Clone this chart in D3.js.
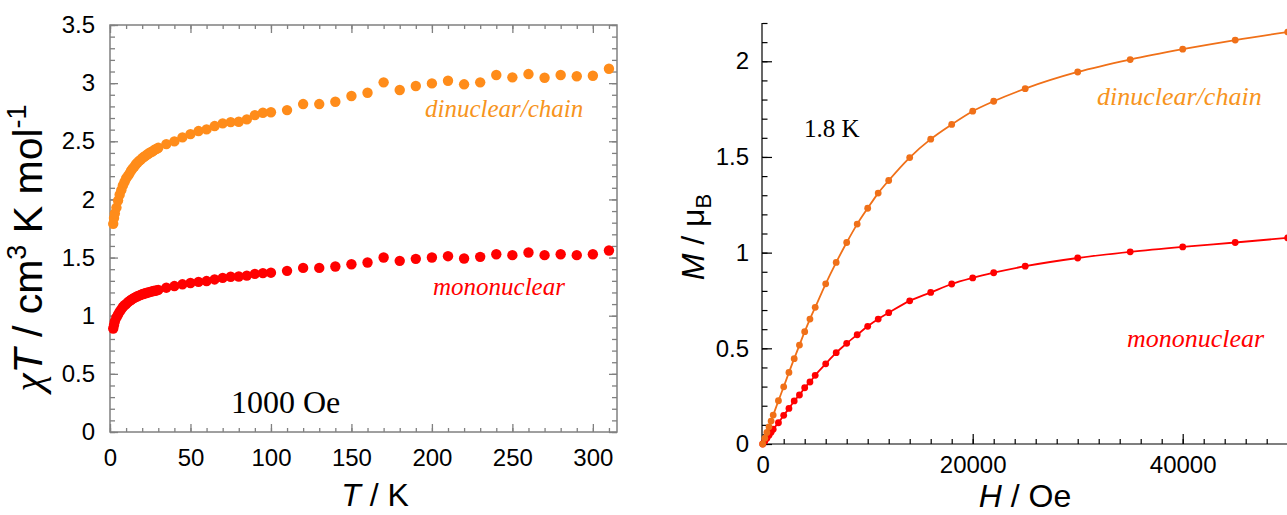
<!DOCTYPE html>
<html>
<head>
<meta charset="utf-8">
<script src="https://cdn.jsdelivr.net/npm/d3@7"></script>
<style>
  body { margin: 0; background: #fff; }
  svg { display: block; }
</style>
</head>
<body>
<svg id="chart" width="1287" height="515"></svg>
<script>
// ---- χT versus T (1000 Oe) ----
const tempK = [2, 2.5, 3, 4, 5, 6, 7, 8, 9, 10, 11, 12, 13, 14, 15, 16, 17, 18, 19, 20,
  21, 22, 23, 24, 25, 26, 27, 28, 29, 30,
  35, 40, 45, 50, 55, 60, 65, 70, 75, 80, 85, 90, 95, 100,
  110, 120, 130, 140, 150, 160, 170, 180, 190, 200, 210, 220, 230, 240, 250, 260, 270, 280, 290, 300, 310];
const chiTDinuclear = [1.79, 1.84, 1.88, 1.93, 1.99, 2.04, 2.08, 2.12, 2.15, 2.18, 2.20, 2.22, 2.245, 2.265, 2.28, 2.30, 2.315, 2.33, 2.34, 2.355,
  2.365, 2.375, 2.385, 2.395, 2.405, 2.41, 2.42, 2.43, 2.435, 2.444,
  2.476, 2.499, 2.534, 2.562, 2.588, 2.602, 2.631, 2.654, 2.665, 2.668, 2.688, 2.725, 2.745, 2.75,
  2.768, 2.820, 2.820, 2.840, 2.889, 2.917, 3.007, 2.941, 2.975, 2.998, 3.021, 2.990, 3.007, 3.070, 3.050, 3.078, 3.046, 3.070, 3.059, 3.064, 3.124];
const chiTMononuclear = [0.89, 0.92, 0.95, 0.985, 1.01, 1.035, 1.055, 1.075, 1.09, 1.10, 1.115, 1.125, 1.135, 1.145, 1.153, 1.16, 1.167, 1.173, 1.179, 1.184,
  1.189, 1.193, 1.197, 1.201, 1.205, 1.209, 1.212, 1.215, 1.218, 1.222,
  1.241, 1.255, 1.27, 1.281, 1.291, 1.298, 1.312, 1.325, 1.335, 1.337, 1.345, 1.36, 1.366, 1.37,
  1.386, 1.411, 1.411, 1.423, 1.443, 1.458, 1.501, 1.472, 1.489, 1.501, 1.512, 1.492, 1.506, 1.529, 1.521, 1.544, 1.521, 1.529, 1.521, 1.529, 1.561];
const tempTicks = [0, 50, 100, 150, 200, 250, 300];
const chiTTicks = [0, 0.5, 1, 1.5, 2, 2.5, 3, 3.5];

// ---- M versus H (1.8 K) ----
const fieldOe = [0, 200, 400, 600, 800, 1000, 1500, 2000, 2500, 3000, 3500, 4000, 4500, 5000, 6000, 7000,
  8000, 9000, 10000, 11000, 12000, 14000, 16000, 18000, 20000, 22000, 25000, 30000, 35000, 40000, 45000, 50000];
const magDinuclear = [0, 0.03, 0.06, 0.09, 0.12, 0.151, 0.226, 0.299, 0.374, 0.446, 0.517, 0.587, 0.653, 0.714, 0.837, 0.949,
  1.053, 1.149, 1.232, 1.311, 1.377, 1.497, 1.593, 1.670, 1.739, 1.791, 1.857, 1.944, 2.009, 2.063, 2.111, 2.153];
const magMononuclear = [0, 0.015, 0.03, 0.046, 0.061, 0.077, 0.111, 0.15, 0.186, 0.225, 0.256, 0.294, 0.324, 0.359, 0.419, 0.477,
  0.526, 0.571, 0.615, 0.653, 0.686, 0.748, 0.792, 0.836, 0.868, 0.895, 0.929, 0.972, 1.004, 1.030, 1.053, 1.077];
const fieldTicks = [0, 20000, 40000];
const magTicks = [0, 0.5, 1, 1.5, 2];

const SANS = "'Liberation Sans', Arial, sans-serif";
const SERIF = "'Liberation Serif', 'Times New Roman', serif";
const ORANGE_L = "#ff8c1a";
const ORANGE_R = "#f07018";
const LABEL_ORANGE = "#f7941d";
const RED = "#ff0000";

const svg = d3.select("#chart");

// ================= left panel =================
const L = { left: 110, right: 617, top: 25, bottom: 432 };
const xT = d3.scaleLinear().domain([0, 315]).range([L.left, L.right]);
const yC = d3.scaleLinear().domain([0, 3.5]).range([L.bottom, L.top]);
const frame = "#808080";

function styleAxis(g, color, width) {
  g.selectAll(".domain").attr("stroke", color).attr("stroke-width", width);
  g.selectAll(".tick line").attr("stroke", color).attr("stroke-width", width);
  g.selectAll(".tick text").attr("fill", "#000");
}

const tempMinor = d3.range(0, 311, 10);
const chiMinor = d3.range(0, 3.51, 0.1);

// minor ticks on all four sides
[["bottom", L.bottom], ["top", L.top]].forEach(([side, y]) => {
  const ax = side === "bottom" ? d3.axisBottom(xT) : d3.axisTop(xT);
  const g = svg.append("g").attr("transform", `translate(0,${y})`)
    .call(ax.tickValues(tempMinor).tickSize(-4).tickFormat(""));
  styleAxis(g, frame, 1.3);
  g.select(".domain").remove();
});
[["left", L.left], ["right", L.right]].forEach(([side, x]) => {
  const ax = side === "left" ? d3.axisLeft(yC) : d3.axisRight(yC);
  const g = svg.append("g").attr("transform", `translate(${x},0)`)
    .call(ax.tickValues(chiMinor).tickSize(-5).tickFormat(""));
  styleAxis(g, frame, 1.3);
  g.select(".domain").remove();
});

// major ticks with labels
const gxB = svg.append("g").attr("transform", `translate(0,${L.bottom})`)
  .call(d3.axisBottom(xT).tickValues(tempTicks).tickSize(-8).tickPadding(17).tickFormat(d3.format("d")));
const gxT = svg.append("g").attr("transform", `translate(0,${L.top})`)
  .call(d3.axisTop(xT).tickValues(tempTicks).tickSize(-8).tickFormat(""));
const gyL = svg.append("g").attr("transform", `translate(${L.left},0)`)
  .call(d3.axisLeft(yC).tickValues(chiTTicks).tickSize(-8).tickPadding(15).tickFormat(d => d3.format("")(d)));
const gyR = svg.append("g").attr("transform", `translate(${L.right},0)`)
  .call(d3.axisRight(yC).tickValues(chiTTicks).tickSize(-8).tickFormat(""));
[gxB, gxT, gyL, gyR].forEach(g => {
  g.select(".domain").remove();
  styleAxis(g, frame, 1.3);
  g.selectAll(".tick text").attr("font-family", SANS).attr("font-size", 24);
});
// plot frame
svg.append("rect")
  .attr("x", L.left).attr("y", L.top)
  .attr("width", L.right - L.left).attr("height", L.bottom - L.top)
  .attr("fill", "none").attr("stroke", frame).attr("stroke-width", 1.5);

// data points
function dots(xs, ys, sx, sy, color, r) {
  svg.append("g").selectAll("circle")
    .data(xs.map((x, i) => [x, ys[i]]))
    .join("circle")
    .attr("cx", d => sx(d[0])).attr("cy", d => sy(d[1]))
    .attr("r", r).attr("fill", color);
}
dots(tempK, chiTDinuclear, xT, yC, ORANGE_L, 5.2);
dots(tempK, chiTMononuclear, xT, yC, RED, 5.2);

// labels
svg.append("text").attr("x", 425).attr("y", 117)
  .attr("font-family", SERIF).attr("font-style", "italic").attr("font-size", 25)
  .attr("fill", LABEL_ORANGE).text("dinuclear/chain");
svg.append("text").attr("x", 433).attr("y", 295)
  .attr("font-family", SERIF).attr("font-style", "italic").attr("font-size", 25)
  .attr("fill", RED).text("mononuclear");
svg.append("text").attr("x", 231).attr("y", 413)
  .attr("font-family", SERIF).attr("font-size", 32)
  .attr("fill", "#000").text("1000 Oe");

// axis titles
const xTitleL = svg.append("text").attr("x", 375).attr("y", 506)
  .attr("text-anchor", "middle").attr("font-family", SANS).attr("font-size", 32);
xTitleL.append("tspan").attr("font-style", "italic").text("T");
xTitleL.append("tspan").text(" / K");

const yTitleL = svg.append("text")
  .attr("transform", "translate(42,248) rotate(-90)")
  .attr("text-anchor", "middle").attr("font-family", SANS).attr("font-size", 41);
yTitleL.append("tspan").attr("font-family", SERIF).attr("font-style", "italic").text("χ");
yTitleL.append("tspan").attr("font-style", "italic").text("T");
yTitleL.append("tspan").text(" / cm");
yTitleL.append("tspan").attr("font-size", 27).attr("dy", -16).text("3");
yTitleL.append("tspan").attr("dy", 16).text(" K mol");
yTitleL.append("tspan").attr("font-size", 27).attr("dy", -16).text("-1");

// ================= right panel =================
const R = { left: 762, right: 1287, top: 23, bottom: 444 };
const xH = d3.scaleLinear().domain([0, 50000]).range([R.left + 0.7, R.left + 0.7 + 525]);
const yM = d3.scaleLinear().domain([0, 2.2]).range([R.bottom, R.top]);

const gHminor = svg.append("g").attr("transform", `translate(0,${R.bottom})`)
  .call(d3.axisBottom(xH).tickValues(d3.range(0, 50001, 2000)).tickSize(-5).tickFormat(""));
const gMminor = svg.append("g").attr("transform", `translate(${R.left},0)`)
  .call(d3.axisLeft(yM).tickValues(d3.range(0, 2.21, 0.1)).tickSize(-5.5).tickFormat(""));
const gH = svg.append("g").attr("transform", `translate(0,${R.bottom})`)
  .call(d3.axisBottom(xH).tickValues(fieldTicks).tickSize(-10).tickPadding(12).tickFormat(d3.format("d")));
const gM = svg.append("g").attr("transform", `translate(${R.left},0)`)
  .call(d3.axisLeft(yM).tickValues(magTicks).tickSize(-10).tickPadding(13).tickFormat(d => d3.format("")(d)));
[gHminor, gMminor, gH, gM].forEach(g => {
  g.select(".domain").remove();
  styleAxis(g, "#000", 1.2);
  g.selectAll(".tick text").attr("font-family", SANS).attr("font-size", 24);
});
svg.append("line").attr("x1", R.left).attr("x2", R.right).attr("y1", R.bottom).attr("y2", R.bottom)
  .attr("stroke", "#000").attr("stroke-width", 1.2);
svg.append("line").attr("x1", R.left).attr("x2", R.left).attr("y1", R.top).attr("y2", R.bottom)
  .attr("stroke", "#000").attr("stroke-width", 1.2);

// magnetisation curves
function curve(xs, ys, color) {
  const pts = xs.map((x, i) => [x, ys[i]]);
  svg.append("path")
    .attr("d", d3.line().x(d => xH(d[0])).y(d => yM(d[1])).curve(d3.curveMonotoneX)(pts))
    .attr("fill", "none").attr("stroke", color).attr("stroke-width", 1.8);
  dots(xs, ys, xH, yM, color, 3.4);
}
curve(fieldOe, magMononuclear, RED);
curve(fieldOe, magDinuclear, ORANGE_R);

svg.append("text").attr("x", 1097).attr("y", 105)
  .attr("font-family", SERIF).attr("font-style", "italic").attr("font-size", 26)
  .attr("fill", LABEL_ORANGE).text("dinuclear/chain");
svg.append("text").attr("x", 1127).attr("y", 347)
  .attr("font-family", SERIF).attr("font-style", "italic").attr("font-size", 26)
  .attr("fill", RED).text("mononuclear");
svg.append("text").attr("x", 804).attr("y", 137)
  .attr("font-family", SERIF).attr("font-size", 25)
  .attr("fill", "#000").text("1.8 K");

const xTitleR = svg.append("text").attr("x", 1025).attr("y", 507)
  .attr("text-anchor", "middle").attr("font-family", SANS).attr("font-size", 32);
xTitleR.append("tspan").attr("font-style", "italic").text("H");
xTitleR.append("tspan").text(" / Oe");

const yTitleR = svg.append("text")
  .attr("transform", "translate(704,237) rotate(-90)")
  .attr("text-anchor", "middle").attr("font-family", SANS).attr("font-size", 32);
yTitleR.append("tspan").attr("font-style", "italic").text("M");
yTitleR.append("tspan").text(" / μ");
yTitleR.append("tspan").attr("font-size", 22).attr("dy", 7).text("B");
</script>
</body>
</html>
